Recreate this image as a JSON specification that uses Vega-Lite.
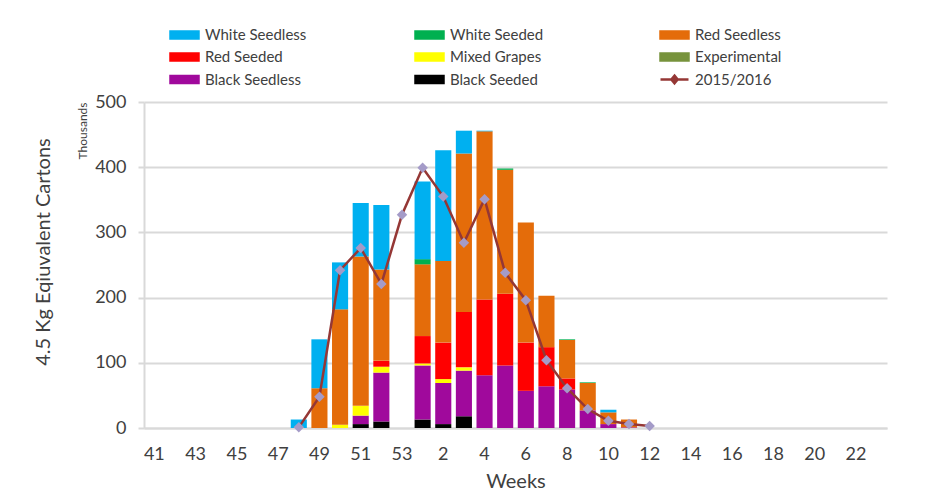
{
  "$schema": "https://vega.github.io/schema/vega-lite/v6.json",
  "width": 743,
  "height": 326,
  "autosize": {"type": "none"},
  "padding": {"left": 144, "top": 102, "right": 44, "bottom": 72},
  "background": "white",
  "title": {
    "text": "4.5 Kg Eqiuvalent Cartons",
    "orient": "left",
    "anchor": "middle",
    "font": "Lato",
    "fontSize": 20,
    "fontWeight": "normal",
    "color": "#404040",
    "offset": 22,
    "dy": -1,
    "dx": 13
  },
  "datasets": {
    "bars": [
      {"week": "48", "variety": "White Seedless", "value": 13},
      {"week": "49", "variety": "Red Seedless", "value": 61},
      {"week": "49", "variety": "White Seedless", "value": 75},
      {"week": "50", "variety": "Mixed Grapes", "value": 5},
      {"week": "50", "variety": "Red Seedless", "value": 177},
      {"week": "50", "variety": "White Seedless", "value": 72},
      {"week": "51", "variety": "Black Seeded", "value": 6},
      {"week": "51", "variety": "Black Seedless", "value": 13},
      {"week": "51", "variety": "Mixed Grapes", "value": 15},
      {"week": "51", "variety": "Red Seedless", "value": 229},
      {"week": "51", "variety": "White Seedless", "value": 82},
      {"week": "52", "variety": "Black Seeded", "value": 10},
      {"week": "52", "variety": "Black Seedless", "value": 75},
      {"week": "52", "variety": "Mixed Grapes", "value": 9},
      {"week": "52", "variety": "Red Seeded", "value": 9},
      {"week": "52", "variety": "Red Seedless", "value": 140},
      {"week": "52", "variety": "White Seedless", "value": 99},
      {"week": "1", "variety": "Black Seeded", "value": 13},
      {"week": "1", "variety": "Black Seedless", "value": 83},
      {"week": "1", "variety": "Mixed Grapes", "value": 3},
      {"week": "1", "variety": "Red Seeded", "value": 42},
      {"week": "1", "variety": "Red Seedless", "value": 110},
      {"week": "1", "variety": "White Seeded", "value": 8},
      {"week": "1", "variety": "White Seedless", "value": 119},
      {"week": "2", "variety": "Black Seeded", "value": 6},
      {"week": "2", "variety": "Black Seedless", "value": 63},
      {"week": "2", "variety": "Mixed Grapes", "value": 6},
      {"week": "2", "variety": "Red Seeded", "value": 56},
      {"week": "2", "variety": "Red Seedless", "value": 125},
      {"week": "2", "variety": "White Seedless", "value": 170},
      {"week": "3", "variety": "Black Seeded", "value": 18},
      {"week": "3", "variety": "Black Seedless", "value": 70},
      {"week": "3", "variety": "Mixed Grapes", "value": 5},
      {"week": "3", "variety": "Red Seeded", "value": 85},
      {"week": "3", "variety": "Red Seedless", "value": 243},
      {"week": "3", "variety": "White Seedless", "value": 35},
      {"week": "4", "variety": "Black Seedless", "value": 81},
      {"week": "4", "variety": "Red Seeded", "value": 116},
      {"week": "4", "variety": "Red Seedless", "value": 258},
      {"week": "4", "variety": "White Seedless", "value": 1},
      {"week": "5", "variety": "Black Seedless", "value": 96},
      {"week": "5", "variety": "Red Seeded", "value": 110},
      {"week": "5", "variety": "Red Seedless", "value": 190},
      {"week": "5", "variety": "White Seeded", "value": 2},
      {"week": "6", "variety": "Black Seedless", "value": 57},
      {"week": "6", "variety": "Red Seeded", "value": 74},
      {"week": "6", "variety": "Red Seedless", "value": 184},
      {"week": "7", "variety": "Black Seedless", "value": 64},
      {"week": "7", "variety": "Red Seeded", "value": 60},
      {"week": "7", "variety": "Red Seedless", "value": 79},
      {"week": "8", "variety": "Black Seedless", "value": 59},
      {"week": "8", "variety": "Red Seeded", "value": 17},
      {"week": "8", "variety": "Red Seedless", "value": 59},
      {"week": "8", "variety": "White Seeded", "value": 1},
      {"week": "9", "variety": "Black Seedless", "value": 27},
      {"week": "9", "variety": "Red Seedless", "value": 42},
      {"week": "9", "variety": "White Seeded", "value": 1},
      {"week": "10", "variety": "Black Seedless", "value": 6},
      {"week": "10", "variety": "Red Seedless", "value": 18},
      {"week": "10", "variety": "White Seedless", "value": 4},
      {"week": "11", "variety": "Black Seedless", "value": 1},
      {"week": "11", "variety": "Red Seedless", "value": 12}
    ],
    "line": [
      {"week": "48", "value": 1},
      {"week": "49", "value": 48},
      {"week": "50", "value": 242},
      {"week": "51", "value": 276},
      {"week": "52", "value": 221},
      {"week": "53", "value": 327},
      {"week": "1", "value": 399},
      {"week": "2", "value": 355},
      {"week": "3", "value": 284},
      {"week": "4", "value": 351},
      {"week": "5", "value": 238},
      {"week": "6", "value": 196},
      {"week": "7", "value": 104},
      {"week": "8", "value": 61},
      {"week": "9", "value": 29},
      {"week": "10", "value": 11},
      {"week": "11", "value": 6},
      {"week": "12", "value": 3}
    ]
  },
  "encoding": {
    "x": {
      "field": "week",
      "type": "nominal",
      "scale": {
        "domain": ["41","42","43","44","45","46","47","48","49","50","51","52","53","1","2","3","4","5","6","7","8","9","10","11","12","13","14","15","16","17","18","19","20","21","22","23"],
        "paddingInner": 0.22,
        "paddingOuter": 0.11
      },
      "axis": {
        "title": "Weeks",
        "values": ["41","43","45","47","49","51","53","2","4","6","8","10","12","14","16","18","20","22"],
        "labelAngle": 0,
        "labelFont": "Lato",
        "labelFontSize": 18,
        "labelColor": "#404040",
        "labelPadding": 17,
        "ticks": false,
        "domainColor": "#D9D9D9",
        "domainWidth": 2,
        "titleFont": "Lato",
        "titleFontSize": 20,
        "titleFontWeight": "normal",
        "titleColor": "#404040",
        "titlePadding": 8
      }
    },
    "y": {
      "field": "value",
      "type": "quantitative",
      "scale": {"domain": [0, 500], "nice": false},
      "axis": {
        "values": [0, 100, 200, 300, 400, 500],
        "title": "Thousands",
        "titleFont": "Lato",
        "titleFontSize": 12,
        "titleFontWeight": "normal",
        "titleColor": "#404040",
        "titleAnchor": "end",
        "titlePadding": 5,
        "labelFont": "Lato",
        "labelFontSize": 18,
        "labelColor": "#404040",
        "labelPadding": 12,
        "tickColor": "#D9D9D9",
        "tickSize": 6,
        "tickWidth": 2,
        "domainColor": "#D9D9D9",
        "domainWidth": 2,
        "gridColor": "#D9D9D9",
        "gridWidth": 2
      }
    }
  },
  "layer": [
    {
      "data": {"name": "bars"},
      "mark": {"type": "bar"},
      "encoding": {
        "order": {"field": "variety", "type": "nominal", "sort": "ascending"},
        "color": {
          "field": "variety",
          "type": "nominal",
          "scale": {
            "domain": ["White Seedless","Red Seeded","Black Seedless","White Seeded","Mixed Grapes","Black Seeded","Red Seedless","Experimental","2015/2016"],
            "range": ["#00B0F0","#FF0000","#A0099C","#00B050","#FFFF00","#000000","#E46C0A","#77933C","#953735"]
          },
          "legend": {
            "orient": "none",
            "legendX": 32,
            "legendY": -76,
            "title": null,
            "columns": 3,
            "columnPadding": 103,
            "rowPadding": 3.5,
            "gridAlign": "all",
            "padding": 0,
            "symbolSize": 196,
            "symbolType": "M-2,-0.5H2V0.5H-2Z",
            "labelOffset": 12,
            "labelFont": "Lato",
            "labelFontSize": 15,
            "labelColor": "#404040",
            "labelLimit": 200,
            "encode": {
              "symbols": {
                "update": {
                  "shape": [
                    {"test": "datum.value === '2015/2016'", "value": "M-2,0H2M0,-0.55L0.45,0L0,0.55L-0.45,0Z"},
                    {"value": "M-2,-0.5H2V0.5H-2Z"}
                  ],
                  "fill": [
                    {"test": "datum.value === '2015/2016'", "value": "#A49BC8"},
                    {"scale": "color", "field": "value"}
                  ],
                  "stroke": [
                    {"test": "datum.value === '2015/2016'", "value": "#953735"},
                    {"value": "transparent"}
                  ],
                  "strokeWidth": {"value": 2.5},
                  "opacity": {"value": 1}
                }
              }
            }
          }
        }
      }
    },
    {
      "data": {"name": "line"},
      "mark": {"type": "line", "strokeWidth": 2.5},
      "encoding": {
        "color": {"datum": "2015/2016", "type": "nominal"},
        "order": {"value": null}
      }
    },
    {
      "data": {"name": "line"},
      "mark": {"type": "point", "shape": "diamond", "filled": true, "size": 110, "color": "#A49BC8", "opacity": 1}
    }
  ],
  "config": {
    "view": {"stroke": null},
    "font": "Lato"
  }
}
